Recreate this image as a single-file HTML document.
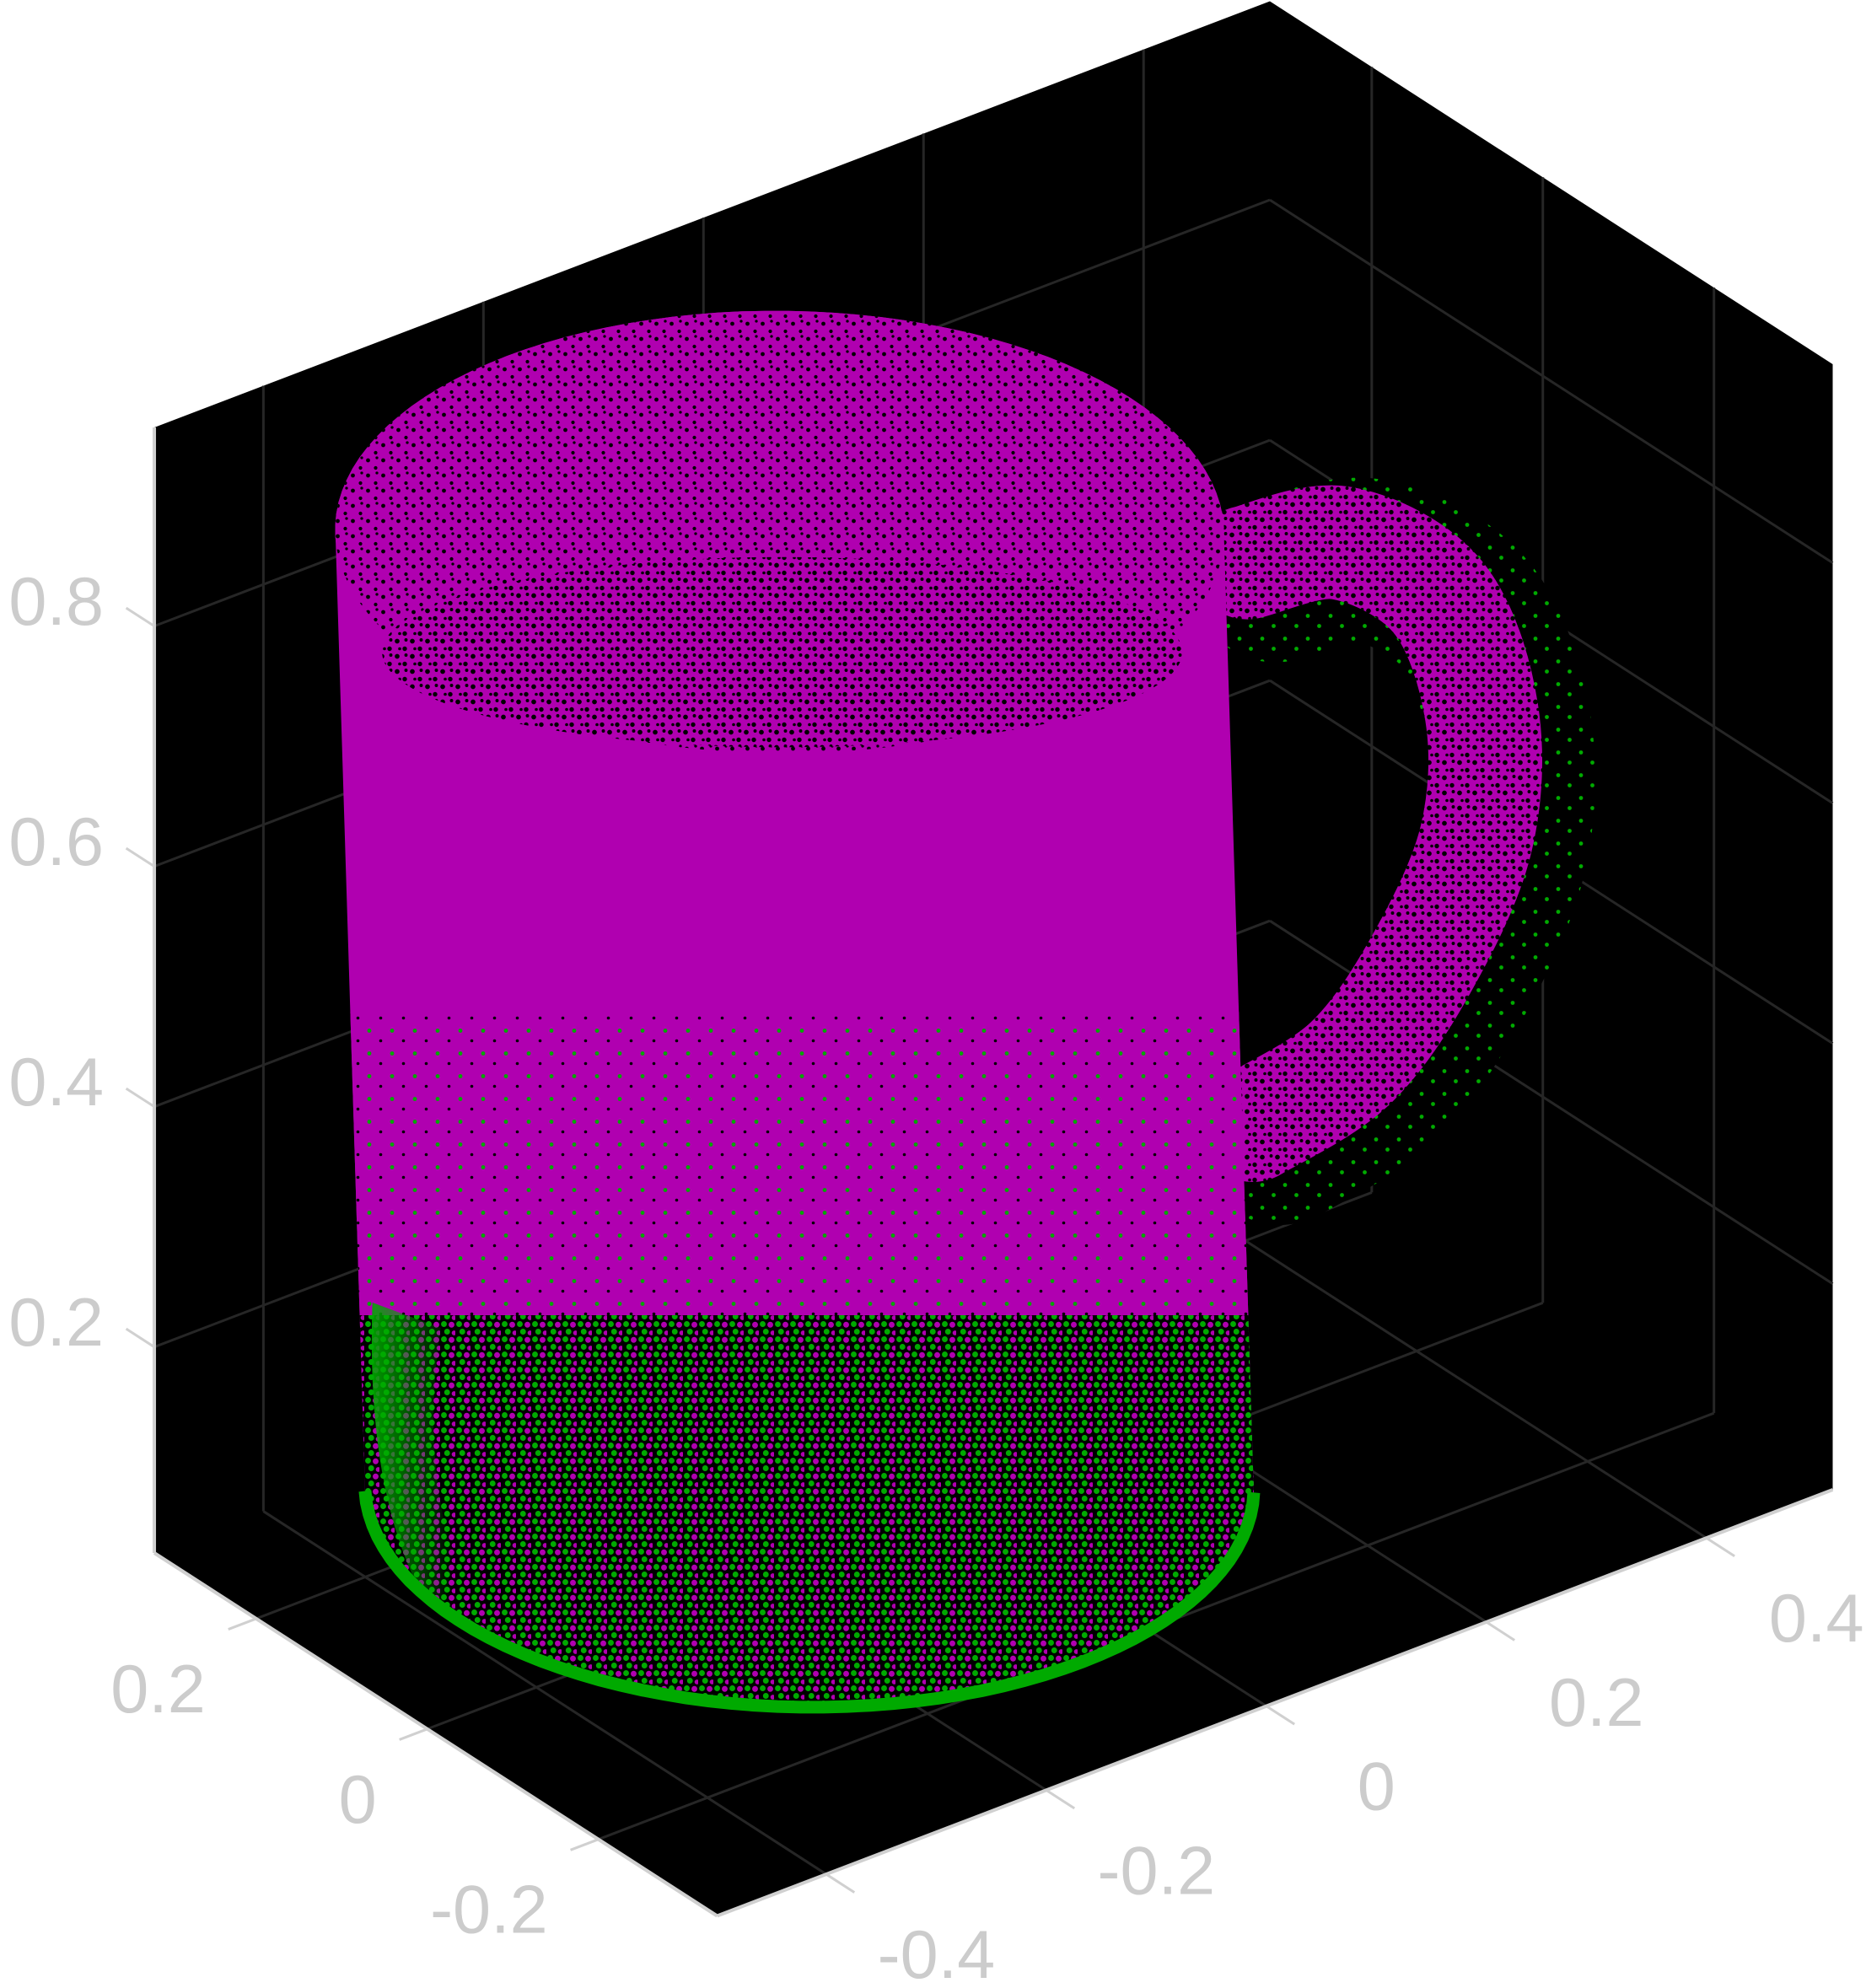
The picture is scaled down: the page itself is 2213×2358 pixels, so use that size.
<!DOCTYPE html>
<html><head><meta charset="utf-8"><style>
html,body{margin:0;padding:0;background:#fff;}
svg{display:block;}
text{font-family:"Liberation Sans",sans-serif;fill:#cccccc;font-size:54px;}
</style></head><body>
<svg id="chart" width="2213" height="2358" viewBox="0 0 1475.33 1572" xmlns="http://www.w3.org/2000/svg">
<defs>
<pattern id="speckA" width="12" height="12" patternUnits="userSpaceOnUse">
<rect width="12" height="12" fill="#b000b0"/>
<circle cx="3" cy="4" r="1.6" fill="#000"/><circle cx="9" cy="10" r="1.4" fill="#000"/><circle cx="10" cy="2" r="1.1" fill="#000"/>
</pattern>
<pattern id="speckB" width="12" height="12" patternUnits="userSpaceOnUse">
<rect width="12" height="12" fill="#b000b0"/>
<circle cx="2" cy="3" r="1.9" fill="#000"/><circle cx="8" cy="9" r="1.8" fill="#000"/><circle cx="9" cy="2" r="1.3" fill="#000"/><circle cx="4" cy="9" r="1.2" fill="#000"/>
</pattern>
<pattern id="greenSparse" width="18" height="18" patternUnits="userSpaceOnUse">
<rect width="18" height="18" fill="#b000b0"/>
<circle cx="4" cy="5" r="1.6" fill="#00aa00"/><circle cx="13" cy="13" r="1.2" fill="#000"/>
</pattern>
<pattern id="mix" width="12" height="12" patternUnits="userSpaceOnUse">
<rect width="12" height="12" fill="#000"/>
<circle cx="3" cy="3" r="2.3" fill="#00aa00"/><circle cx="9" cy="3.5" r="2.3" fill="#b000b0"/><circle cx="5.5" cy="9" r="2.3" fill="#00aa00"/><circle cx="11" cy="10" r="1.9" fill="#b000b0"/>
</pattern>
<pattern id="greenOut" width="18" height="18" patternUnits="userSpaceOnUse">
<rect width="18" height="18" fill="#000"/>
<circle cx="4" cy="5" r="1.6" fill="#00aa00"/><circle cx="13" cy="13" r="1.6" fill="#00aa00"/>
</pattern>
<linearGradient id="crescentGrad" x1="0" y1="0" x2="1" y2="0">
<stop offset="0" stop-color="#00aa00" stop-opacity="0.9"/><stop offset="1" stop-color="#00aa00" stop-opacity="0"/>
</linearGradient>
<clipPath id="bodyClip"></clipPath>
</defs>
<g id="layer"></g>
</svg>
<script>
// ---- data ----
const xTicks = [-0.4, -0.2, 0, 0.2, 0.4];
const xTickLabels = ["-0.4", "-0.2", "0", "0.2", "0.4"];
const yTicks = [-0.2, 0, 0.2];
const yTickLabels = ["-0.2", "0", "0.2"];
const zTicks = [0.2, 0.4, 0.6, 0.8];
const zTickLabels = ["0.2", "0.4", "0.6", "0.8"];
const mugRadius = [0.319];
const mugTopCenter = [-0.093, 0.1105, 0.832];
const mugBottomCenter = [-0.066, 0.1105, 0.0286];
const handleX = [0.332, 0.418, 0.505, 0.545, 0.540, 0.490, 0.425, 0.337];
const handleZ = [0.658, 0.644, 0.569, 0.459, 0.355, 0.268, 0.208, 0.188];
const handleY = 0.1105;

// ---- axes / projection ----
const O = [567, 1515], U = [882, -337], V = [-445, -287], W = [0, -890];
function uOf(x){ return 0.4923 + 0.98625 * x; }
function vOf(y){ return 0.515 + 1.52 * y; }
function wOf(z){ return 1.0675 * z - 0.0305; }
function P(u, v, w){ return [O[0] + u*U[0] + v*V[0] + w*W[0], O[1] + u*U[1] + v*V[1] + w*W[1]]; }
function proj(x, y, z){ return P(uOf(x), vOf(y), wOf(z)); }

const NS = "http://www.w3.org/2000/svg";
const layer = document.getElementById('layer');
function mk(tag, attrs, parent){ const e = document.createElementNS(NS, tag); for (const k in attrs) e.setAttribute(k, attrs[k]); (parent||layer).appendChild(e); return e; }
function pts(a){ return a.map(p => p[0].toFixed(1) + ',' + p[1].toFixed(1)).join(' '); }

const bg = mk('polygon', {points: pts([P(0,1,1), P(1,1,1), P(1,0,1), P(1,0,0), P(0,0,0), P(0,1,0)]), fill: '#000'});



const grid = mk('g', {stroke: '#262626', 'stroke-width': 2, fill: 'none'});


function line(a, b, g){ return mk('line', {x1: a[0], y1: a[1], x2: b[0], y2: b[1]}, g); }
xTicks.forEach(t => { const u = uOf(t); line(P(u,1,0), P(u,1,1), grid); line(P(u,0,0), P(u,1,0), grid); });
yTicks.forEach(t => { const v = vOf(t); line(P(1,v,0), P(1,v,1), grid); line(P(0,v,0), P(1,v,0), grid); });
zTicks.forEach(t => { const w = wOf(t); line(P(0,1,w), P(1,1,w), grid); line(P(1,1,w), P(1,0,w), grid); });

const axes = mk('g', {stroke: '#d0d0d0', 'stroke-width': 2.7, fill: 'none'});


line(P(0,1,0), P(0,1,1), axes);
line(P(0,1,0), P(0,0,0), axes);
line(P(0,0,0), P(1,0,0), axes);

const tk = mk('g', {stroke: '#d0d0d0', 'stroke-width': 2});


xTicks.forEach((t, i) => {
  const a = P(uOf(t), 0, 0), b = P(uOf(t), -0.05, 0);
  line(a, b, tk);
  const tx = mk('text', {x: a[0] + 87, y: a[1] + 82, 'text-anchor': 'middle'});
  tx.textContent = xTickLabels[i];
  
  
});
yTicks.forEach((t, i) => {
  const a = P(0, vOf(t), 0), b = P(-0.025, vOf(t), 0);
  line(a, b, tk);
  const tx = mk('text', {x: a[0] - 40, y: a[1] + 74, 'text-anchor': 'end'});
  tx.textContent = yTickLabels[i];
  
  
});
zTicks.forEach((t, i) => {
  const a = P(0, 1, wOf(t)), b = P(0, 1.05, wOf(t));
  line(a, b, tk);
  const tx = mk('text', {x: a[0] - 40, y: a[1] - 1, 'text-anchor': 'end'});
  tx.textContent = zTickLabels[i];
  
  
});

function smooth(p){
  let d = 'M' + p[0][0] + ',' + p[0][1];
  for (let i = 0; i < p.length - 1; i++){
    const p0 = p[Math.max(0,i-1)], p1 = p[i], p2 = p[i+1], p3 = p[Math.min(p.length-1,i+2)];
    const c1 = [p1[0] + (p2[0]-p0[0])/6, p1[1] + (p2[1]-p0[1])/6];
    const c2 = [p2[0] - (p3[0]-p1[0])/6, p2[1] - (p3[1]-p1[1])/6];
    d += ' C' + c1.join(',') + ' ' + c2.join(',') + ' ' + p2.join(',');
  }
  return d;
}
const hp = handleX.map((x, i) => proj(x, handleY, handleZ[i]));
const hd = smooth(hp);
const hg = mk('path', {d: hd, stroke: 'url(#greenOut)', 'stroke-width': 130, fill: 'none', 'stroke-linecap': 'round', transform: 'translate(22,14)'});


const hm = mk('path', {d: hd, stroke: 'url(#speckB)', 'stroke-width': 90, fill: 'none', 'stroke-linecap': 'round'});



const R = mugRadius[0];
function ring(c, r, n){ const a = []; for (let i = 0; i < n; i++){ const t = 2*Math.PI*i/n; a.push(proj(c[0] + r*Math.cos(t), c[1] + r*Math.sin(t), c[2])); } return a; }
const topR = ring(mugTopCenter, R, 120), botR = ring(mugBottomCenter, R, 120);
function ext(a){ let l = a[0], r = a[0], t = a[0], b = a[0]; a.forEach(p => { if (p[0] < l[0]) l = p; if (p[0] > r[0]) r = p; if (p[1] < t[1]) t = p; if (p[1] > b[1]) b = p; }); return {l, r, t, b}; }
const te = ext(topR), be = ext(botR);
function bodyShapes(parent, fill){
  mk('polygon', {points: pts(topR), fill}, parent);
  mk('polygon', {points: pts(botR), fill}, parent);
  mk('polygon', {points: pts([te.l, te.r, be.r, be.l]), fill}, parent);
}
const body = mk('g', {});


bodyShapes(body, '#b000b0');
bodyShapes(document.getElementById('bodyClip'), '#fff');

const lower = mk('g', {'clip-path': 'url(#bodyClip)'});


mk('rect', {x: 200, y: 800, width: 900, height: 240, fill: 'url(#greenSparse)'}, lower);
mk('rect', {x: 200, y: 1040, width: 900, height: 400, fill: 'url(#mix)'}, lower);
const crescent = mk('path', {d: 'M' + (be.l[0]+6) + ',1030 Q' + (be.l[0]) + ',1200 ' + (be.l[0]+60) + ',1285 L' + (be.l[0]+70) + ',1230 Q' + (be.l[0]+45) + ',1150 ' + (be.l[0]+60) + ',1050 Z', fill: 'url(#crescentGrad)'}, lower);



const lowHalf = botR.filter(p => p[1] >= (be.t[1] + be.b[1]) / 2).sort((a, b) => a[0] - b[0]);
const rim = mk('polyline', {points: pts(lowHalf), stroke: '#00aa00', 'stroke-width': 10, fill: 'none'});



const topS = mk('polygon', {points: pts(topR), fill: 'url(#speckA)'});


const tcx = (te.l[0] + te.r[0]) / 2, tcy = (te.t[1] + te.b[1]) / 2, trx = (te.r[0] - te.l[0]) / 2, try_ = (te.b[1] - te.t[1]) / 2;
const inner = mk('ellipse', {cx: tcx + 2, cy: tcy + 95, rx: trx * 0.9, ry: try_ * 0.43, fill: 'url(#speckB)'});


</script>
</body></html>
